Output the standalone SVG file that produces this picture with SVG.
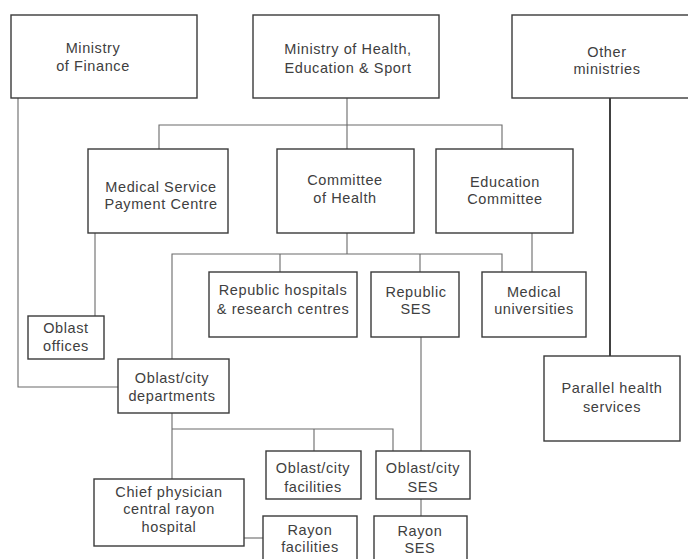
<svg xmlns="http://www.w3.org/2000/svg" width="688" height="559" viewBox="0 0 688 559">
<style>
.box{fill:#fff;stroke:#3a3a3a;stroke-width:1.4}
.t{font-family:"Liberation Sans",Arial,sans-serif;font-size:14.5px;letter-spacing:0.6px;fill:#404040;text-anchor:middle}
.c{fill:none;stroke:#6a6a6a;stroke-width:1.1}
.k{fill:none;stroke:#111;stroke-width:1.6}
</style>
<rect width="688" height="559" fill="#fff"/>
<g id="connectors">
<path class="c" d="M347 98V149M159 149V125H502V149"/>
<path class="c" d="M18 98V387H118"/>
<path class="c" d="M95 233V316"/>
<path class="c" d="M347 233V254M172 359V254H502V272M280 254V272M420 254V272"/>
<path class="c" d="M532 233V272"/>
<path class="c" d="M421 337V451"/>
<path class="c" d="M172 413V479M172 429H393V451M314 429V451"/>
<path class="c" d="M244 538H263"/>
<path class="c" d="M421 499V516"/>
<path class="k" d="M610 98V356"/>
</g>
<g id="ministry-finance"><rect class="box" x="11" y="15" width="186" height="83"/><text class="t" x="93" y="53">Ministry</text><text class="t" x="93" y="71">of Finance</text></g>
<g id="ministry-health"><rect class="box" x="253" y="15" width="186" height="83"/><text class="t" x="348" y="54">Ministry of Health,</text><text class="t" x="348" y="73">Education &amp; Sport</text></g>
<g id="other-ministries"><rect class="box" x="512" y="15" width="190" height="83"/><text class="t" x="607" y="57">Other</text><text class="t" x="607" y="74">ministries</text></g>
<g id="mspc"><rect class="box" x="88" y="149" width="140" height="84"/><text class="t" x="161" y="192">Medical Service</text><text class="t" x="161" y="209">Payment Centre</text></g>
<g id="committee-health"><rect class="box" x="277" y="149" width="137" height="84"/><text class="t" x="345" y="185">Committee</text><text class="t" x="345" y="203">of Health</text></g>
<g id="education-committee"><rect class="box" x="436" y="149" width="137" height="84"/><text class="t" x="505" y="187">Education</text><text class="t" x="505" y="204">Committee</text></g>
<g id="republic-hospitals"><rect class="box" x="209" y="272" width="148" height="65"/><text class="t" x="283" y="295">Republic hospitals</text><text class="t" x="283" y="314">&amp; research centres</text></g>
<g id="republic-ses"><rect class="box" x="371" y="272" width="88" height="65"/><text class="t" x="416" y="297">Republic</text><text class="t" x="416" y="314">SES</text></g>
<g id="medical-universities"><rect class="box" x="482" y="272" width="104" height="65"/><text class="t" x="534" y="297">Medical</text><text class="t" x="534" y="314">universities</text></g>
<g id="oblast-offices"><rect class="box" x="28" y="316" width="76" height="43"/><text class="t" x="66" y="333">Oblast</text><text class="t" x="66" y="351">offices</text></g>
<g id="oblast-departments"><rect class="box" x="118" y="359" width="111" height="54"/><text class="t" x="172" y="383">Oblast/city</text><text class="t" x="172" y="401">departments</text></g>
<g id="parallel-health"><rect class="box" x="544" y="356" width="136" height="85"/><text class="t" x="612" y="393">Parallel health</text><text class="t" x="612" y="412">services</text></g>
<g id="oblast-facilities"><rect class="box" x="266" y="451" width="95" height="48"/><text class="t" x="313" y="473">Oblast/city</text><text class="t" x="313" y="492">facilities</text></g>
<g id="oblast-ses"><rect class="box" x="376" y="451" width="94" height="48"/><text class="t" x="423" y="473">Oblast/city</text><text class="t" x="423" y="492">SES</text></g>
<g id="chief-physician"><rect class="box" x="94" y="479" width="150" height="67"/><text class="t" x="169" y="497">Chief physician</text><text class="t" x="169" y="514">central rayon</text><text class="t" x="169" y="532">hospital</text></g>
<g id="rayon-facilities"><rect class="box" x="263" y="516" width="94" height="60"/><text class="t" x="310" y="535">Rayon</text><text class="t" x="310" y="552">facilities</text></g>
<g id="rayon-ses"><rect class="box" x="374" y="516" width="93" height="60"/><text class="t" x="420" y="536">Rayon</text><text class="t" x="420" y="553">SES</text></g>
</svg>
